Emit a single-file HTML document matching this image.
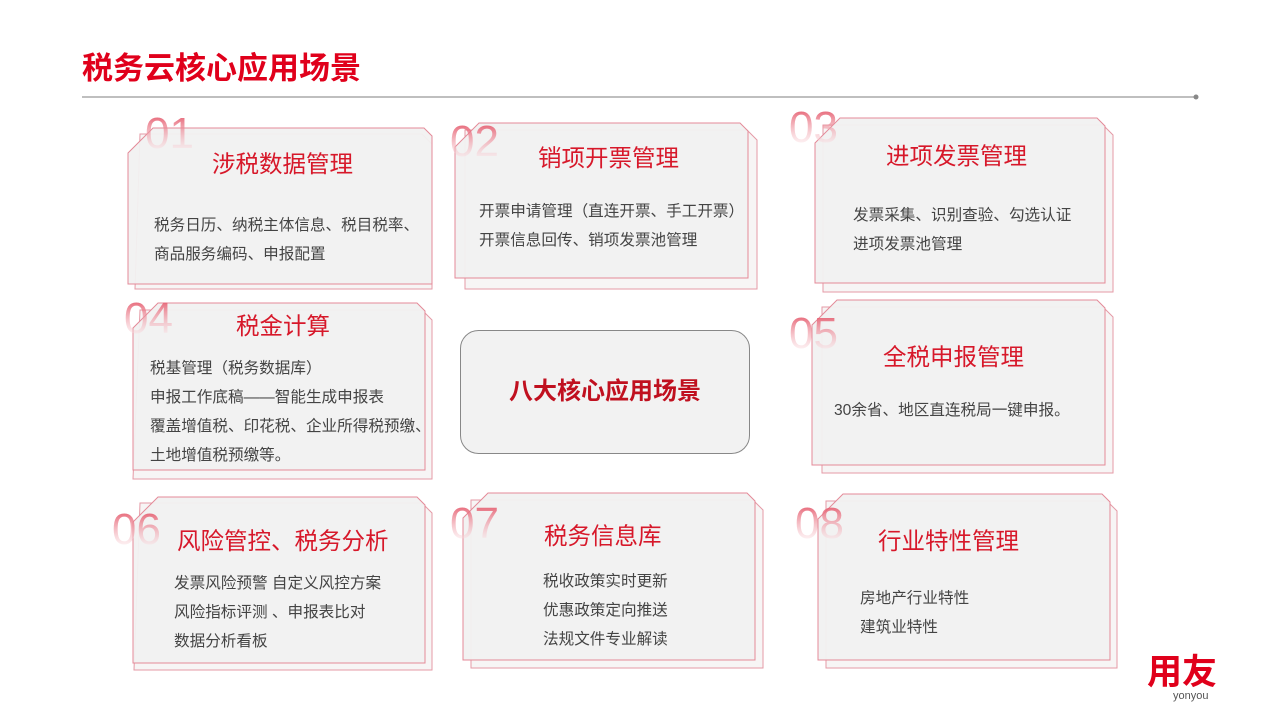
<!DOCTYPE html>
<html><head><meta charset="utf-8"><style>
html,body{margin:0;padding:0;background:#fff;width:1280px;height:720px;overflow:hidden}
svg text{font-family:"Liberation Sans","Noto Sans CJK SC",sans-serif}
.t{fill:#d7182a;font-size:23.5px}
.b{fill:#444;font-size:15.6px}
.n{font-size:44px;fill:url(#ng)}
.bk{fill:#f7f5f5;stroke:#e59aa6;stroke-width:1}
.fr{fill:#f1f1f1;fill-opacity:.95;stroke:#e48a98;stroke-width:1}
</style></head><body>
<svg width="1280" height="720" viewBox="0 0 1280 720" xmlns="http://www.w3.org/2000/svg">
<defs>
<linearGradient id="ng" x1="0" y1="0" x2="0" y2="1"><stop offset="0" stop-color="#e03a50"/><stop offset="1" stop-color="#fff" stop-opacity=".3"/></linearGradient>
</defs>
<text x="82" y="79" style="font-size:31px;font-weight:bold;fill:#e0001b">税务云核心应用场景</text>
<line x1="82" y1="97" x2="1195" y2="97" stroke="#999" stroke-width="1.2"/>
<circle cx="1196" cy="97" r="2.5" fill="#888"/>

<!-- card 1 -->
<path class="bk" d="M140,134 h282 l10,10 v145 h-297 z"/>
<path class="fr" d="M128,153 l25,-25 h271 l8,8 v148 h-304 z"/>
<text class="n" x="145" y="148">01</text>
<text class="t" x="212" y="172">涉税数据管理</text>
<text class="b" x="154" y="230">税务日历、纳税主体信息、税目税率、</text>
<text class="b" x="154" y="259">商品服务编码、申报配置</text>

<!-- card 2 -->
<path class="bk" d="M465,130 h282 l10,10 v149 h-292 z"/>
<path class="fr" d="M455,147 l24,-24 h261 l8,8 v147 h-293 z"/>
<text class="n" x="450" y="156">02</text>
<text class="t" x="538" y="166">销项开票管理</text>
<text class="b" x="479" y="216">开票申请管理（直连开票、手工开票）</text>
<text class="b" x="479" y="245">开票信息回传、销项发票池管理</text>

<!-- card 3 -->
<path class="bk" d="M823,125 h280 l10,10 v157 h-290 z"/>
<path class="fr" d="M815,143 l25,-25 h257 l8,8 v157 h-290 z"/>
<text class="n" x="789" y="142">03</text>
<text class="t" x="886" y="164">进项发票管理</text>
<text class="b" x="853" y="220">发票采集、识别查验、勾选认证</text>
<text class="b" x="853" y="249">进项发票池管理</text>

<!-- card 4 -->
<path class="bk" d="M140,310 h282 l10,10 v159 h-299 z"/>
<path class="fr" d="M133,328 l25,-25 h259 l8,8 v159 h-292 z"/>
<text class="n" x="124" y="333">04</text>
<text class="t" x="236" y="334">税金计算</text>
<text class="b" x="150" y="373">税基管理（税务数据库）</text>
<text class="b" x="150" y="402">申报工作底稿——智能生成申报表</text>
<text class="b" x="150" y="431">覆盖增值税、印花税、企业所得税预缴、</text>
<text class="b" x="150" y="460">土地增值税预缴等。</text>

<!-- center -->
<rect x="460.5" y="330.5" width="289" height="123" rx="18" fill="#f2f2f2" stroke="#888" stroke-width="1"/>
<text x="605" y="399" text-anchor="middle" style="font-size:24px;font-weight:bold;fill:#c0101f">八大核心应用场景</text>

<!-- card 5 -->
<path class="bk" d="M822,307 h281 l10,10 v156 h-291 z"/>
<path class="fr" d="M812,325 l25,-25 h260 l8,8 v157 h-293 z"/>
<text class="n" x="789" y="348">05</text>
<text class="t" x="883" y="365">全税申报管理</text>
<text class="b" x="834" y="415">30余省、地区直连税局一键申报。</text>

<!-- card 6 -->
<path class="bk" d="M140,503 h282 l10,10 v157 h-298 z"/>
<path class="fr" d="M133,522 l25,-25 h259 l8,8 v158 h-292 z"/>
<text class="n" x="112" y="544">06</text>
<text class="t" x="177" y="549">风险管控、税务分析</text>
<text class="b" x="174" y="588">发票风险预警 自定义风控方案</text>
<text class="b" x="174" y="617">风险指标评测 、申报表比对</text>
<text class="b" x="174" y="646">数据分析看板</text>

<!-- card 7 -->
<path class="bk" d="M471,500 h282 l10,10 v158 h-292 z"/>
<path class="fr" d="M463,518 l25,-25 h259 l8,8 v159 h-292 z"/>
<text class="n" x="450" y="538">07</text>
<text class="t" x="544" y="544">税务信息库</text>
<text class="b" x="543" y="586">税收政策实时更新</text>
<text class="b" x="543" y="615">优惠政策定向推送</text>
<text class="b" x="543" y="644">法规文件专业解读</text>

<!-- card 8 -->
<path class="bk" d="M826,501 h281 l10,10 v157 h-291 z"/>
<path class="fr" d="M818,519 l25,-25 h259 l8,8 v158 h-292 z"/>
<text class="n" x="795" y="538">08</text>
<text class="t" x="878" y="549">行业特性管理</text>
<text class="b" x="860" y="603">房地产行业特性</text>
<text class="b" x="860" y="632">建筑业特性</text>

<!-- logo -->
<text x="1147" y="684" style="font-size:35px;font-weight:bold;fill:#e0001b">用友</text>
<text x="1173" y="699" style="font-size:11px;fill:#555">yonyou</text>
</svg>
</body></html>
